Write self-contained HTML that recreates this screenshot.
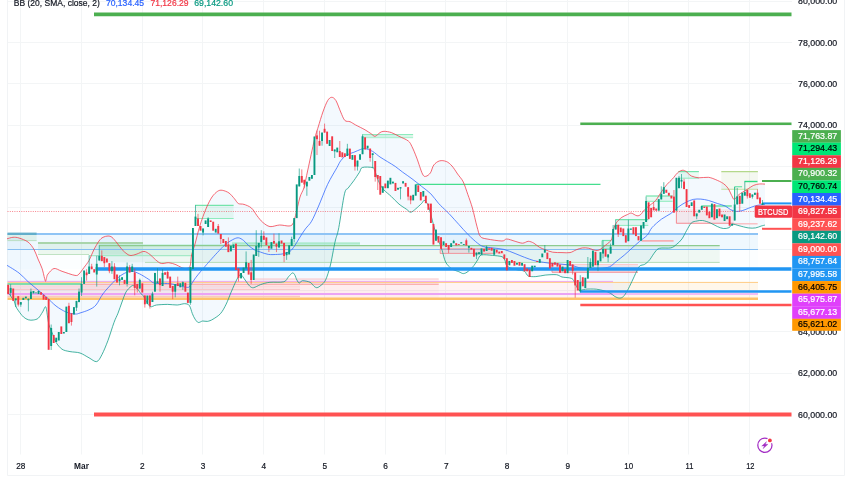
<!DOCTYPE html><html><head><meta charset="utf-8"><title>BTCUSD chart</title><style>html,body{margin:0;padding:0;background:#fff;overflow:hidden}body{width:852px;height:485px}</style></head><body><svg width="852" height="485" viewBox="0 0 852 485" style="display:block">
<rect width="852" height="485" fill="#fff"/>
<g stroke="#F3F5F6" stroke-width="1" >
<line x1="20.5" y1="0" x2="20.5" y2="454.5"/>
<line x1="81.5" y1="0" x2="81.5" y2="454.5"/>
<line x1="142.5" y1="0" x2="142.5" y2="454.5"/>
<line x1="202.5" y1="0" x2="202.5" y2="454.5"/>
<line x1="263.5" y1="0" x2="263.5" y2="454.5"/>
<line x1="324.5" y1="0" x2="324.5" y2="454.5"/>
<line x1="385.5" y1="0" x2="385.5" y2="454.5"/>
<line x1="445.5" y1="0" x2="445.5" y2="454.5"/>
<line x1="506.5" y1="0" x2="506.5" y2="454.5"/>
<line x1="567.5" y1="0" x2="567.5" y2="454.5"/>
<line x1="628.5" y1="0" x2="628.5" y2="454.5"/>
<line x1="688.5" y1="0" x2="688.5" y2="454.5"/>
<line x1="749.5" y1="0" x2="749.5" y2="454.5"/>
<line x1="7.5" y1="1.5" x2="792" y2="1.5"/>
<line x1="7.5" y1="42.5" x2="792" y2="42.5"/>
<line x1="7.5" y1="83.5" x2="792" y2="83.5"/>
<line x1="7.5" y1="125.5" x2="792" y2="125.5"/>
<line x1="7.5" y1="166.5" x2="792" y2="166.5"/>
<line x1="7.5" y1="207.5" x2="792" y2="207.5"/>
<line x1="7.5" y1="249.5" x2="792" y2="249.5"/>
<line x1="7.5" y1="290.5" x2="792" y2="290.5"/>
<line x1="7.5" y1="331.5" x2="792" y2="331.5"/>
<line x1="7.5" y1="373.5" x2="792" y2="373.5"/>
<line x1="7.5" y1="414.5" x2="792" y2="414.5"/>
</g>
<path d="M7.5,0V475.5H844.5V0" fill="none" stroke="#F1F3F5" stroke-width="1"/>
<rect x="7.5" y="234" width="750.5" height="15.3" fill="rgba(33,150,243,0.07)"/>
<rect x="7.5" y="249.3" width="750.5" height="19.7" fill="rgba(33,150,243,0.012)"/>
<rect x="7.5" y="282" width="431.2" height="16.5" fill="rgba(242,54,69,0.09)"/>
<rect x="438.7" y="282" width="174.3" height="16.5" fill="rgba(242,54,69,0.06)"/>
<rect x="613" y="282" width="145.0" height="16.5" fill="rgba(255,152,0,0.08)"/>
<rect x="7.5" y="284.4" width="292.5" height="5.6" fill="rgba(242,54,69,0.05)"/>
<rect x="254.5" y="279" width="184.2" height="5.4" fill="rgba(242,54,69,0.06)"/>
<rect x="7.5" y="234" width="29.1" height="7.0" fill="rgba(76,175,80,0.10)"/>
<rect x="38" y="243" width="105.0" height="11.6" fill="rgba(76,175,80,0.09)"/>
<rect x="98.8" y="245.5" width="94.2" height="10.5" fill="rgba(0,200,100,0.075)"/>
<rect x="99" y="245.5" width="620.7" height="16.9" fill="rgba(76,175,80,0.07)"/>
<rect x="195" y="205.4" width="38.6" height="13.1" fill="rgba(0,200,100,0.075)"/>
<rect x="232" y="242.6" width="128.0" height="2.8" fill="rgba(0,200,100,0.075)"/>
<rect x="362.3" y="134.5" width="50.8" height="3.2" fill="rgba(0,200,100,0.15)"/>
<rect x="440" y="249" width="54.0" height="4.5" fill="rgba(242,54,69,0.10)"/>
<rect x="552" y="264.5" width="86.0" height="7.7" fill="rgba(242,54,69,0.10)"/>
<rect x="676.4" y="209.2" width="57.2" height="14.1" fill="rgba(242,54,69,0.085)"/>
<rect x="602" y="240.5" width="9.0" height="8.5" fill="rgba(0,200,100,0.075)"/>
<rect x="615.4" y="219.7" width="32.9" height="5.7" fill="rgba(0,200,100,0.075)"/>
<rect x="645.8" y="196" width="26.8" height="5.3" fill="rgba(0,200,100,0.075)"/>
<rect x="678.3" y="171.6" width="20.6" height="6.6" fill="rgba(0,200,100,0.075)"/>
<rect x="721.3" y="171.7" width="36.6" height="17.6" fill="rgba(104,159,56,0.075)"/>
<polygon points="7.0,238.8 13.0,237.3 19.0,238.0 28.0,242.0 34.0,249.5 38.0,259.0 42.0,268.3 44.6,278.5 45.6,281.3 46.6,277.5 48.0,274.0 54.0,268.5 62.0,271.3 75.0,275.4 79.0,274.0 84.0,267.5 89.0,260.5 94.0,249.5 99.0,241.0 103.0,237.3 108.0,236.0 112.0,237.3 117.0,243.0 122.0,249.5 127.0,254.0 131.0,255.5 137.0,254.0 144.0,251.4 150.0,254.5 155.6,259.8 161.3,263.5 168.8,262.7 176.0,264.7 181.0,267.3 186.0,268.5 190.0,266.3 191.6,255.0 195.0,244.0 199.8,226.0 206.3,208.0 212.0,197.0 217.6,191.3 222.3,190.3 229.0,193.0 234.5,198.8 238.3,203.5 244.0,204.4 251.4,208.0 257.0,215.7 262.7,222.3 270.0,226.6 279.6,225.0 289.0,226.0 292.7,224.0 295.5,215.7 300.0,197.0 304.0,187.5 307.8,170.0 314.4,140.0 318.2,127.0 322.9,112.0 327.6,100.7 331.7,97.3 336.0,100.7 340.7,112.0 344.8,120.4 350.0,121.7 355.7,125.0 365.0,129.8 370.8,133.5 375.0,136.3 380.0,132.6 384.0,131.3 391.4,132.6 399.0,136.3 408.3,141.0 412.0,146.7 416.8,158.1 422.5,174.0 425.9,176.3 430.4,172.9 433.8,165.0 439.5,160.9 446.3,161.5 452.0,166.0 457.6,174.0 463.3,182.0 467.8,194.4 472.4,208.0 476.9,226.2 480.3,236.4 487.1,239.0 502.0,241.0 506.7,239.0 515.1,241.3 522.6,243.2 528.3,241.3 533.9,243.2 539.5,247.3 545.2,249.7 552.7,252.2 562.0,252.6 570.0,252.6 576.2,249.8 582.4,247.9 588.6,248.2 593.2,249.8 597.1,250.5 601.0,249.0 605.6,245.1 609.5,242.0 611.8,238.9 613.5,229.5 616.3,222.9 621.9,217.3 627.6,214.5 631.3,213.1 637.0,215.8 640.7,214.5 644.5,209.8 650.1,205.1 655.7,200.4 661.4,191.9 667.0,184.4 672.6,178.8 677.3,173.1 682.0,170.3 685.8,171.3 691.4,176.0 698.9,177.8 708.3,177.3 715.8,179.7 723.3,183.5 728.0,188.2 731.8,195.7 734.3,199.3 739.0,194.5 746.4,189.9 753.8,185.3 759.4,184.0 765.0,184.1 765.0,225.1 761.2,226.0 755.7,227.9 748.2,227.9 739.0,225.7 732.5,224.2 729.0,227.7 723.3,228.5 717.7,226.7 710.2,222.9 702.6,220.5 697.0,221.0 691.4,222.9 686.7,230.4 682.0,238.9 676.4,244.5 670.8,247.9 659.5,248.3 655.0,252.0 650.0,259.4 647.4,262.2 644.3,264.5 639.7,266.0 636.6,271.4 631.9,281.5 627.3,290.8 623.4,296.5 619.5,298.1 614.9,296.5 610.2,293.1 604.0,290.8 596.3,289.2 585.5,289.2 579.0,290.2 575.5,284.0 573.0,279.5 569.6,277.9 562.0,277.0 556.4,274.7 545.2,275.1 535.8,276.6 528.3,276.0 524.5,271.3 518.0,270.0 512.0,268.5 506.7,265.7 504.8,260.0 502.0,256.7 492.6,255.4 481.3,255.0 477.6,260.0 473.8,265.7 468.2,271.3 463.5,273.6 458.8,271.7 451.3,268.5 445.6,262.0 442.0,250.0 439.3,242.6 436.5,235.1 433.7,225.7 430.8,214.5 428.0,205.0 424.3,200.4 421.5,203.6 415.8,208.8 410.8,212.2 406.4,209.2 399.0,204.1 391.4,196.6 384.0,190.0 380.0,184.4 377.0,177.0 374.5,170.0 372.6,167.5 362.3,167.5 359.5,172.2 353.8,180.7 348.2,188.0 344.5,193.8 338.8,227.6 335.5,240.0 333.3,250.6 330.2,266.0 325.6,280.0 320.9,285.4 317.0,287.7 314.0,286.2 310.1,282.3 302.4,280.7 299.3,283.1 296.9,280.0 294.6,274.6 292.3,273.0 288.4,276.9 283.8,281.8 269.9,282.3 260.6,284.6 253.6,287.7 249.8,286.2 245.1,280.0 240.5,274.6 236.6,280.0 231.2,292.0 226.2,304.1 220.6,313.5 213.0,319.2 207.4,321.4 202.7,321.0 198.3,322.5 195.1,319.2 192.3,313.5 189.4,305.6 184.7,303.7 177.2,305.0 167.7,304.4 156.4,305.0 149.8,306.3 143.0,295.5 141.0,293.8 137.5,289.0 133.5,285.6 131.0,286.5 126.0,292.0 122.0,302.0 118.0,313.2 114.0,322.5 108.0,340.4 102.0,354.5 96.7,361.6 89.0,357.8 80.0,353.0 70.0,351.6 62.0,349.2 56.0,342.3 53.0,335.0 50.7,329.3 48.8,324.4 47.6,317.0 45.7,306.8 42.6,312.0 38.3,318.2 33.4,320.0 28.4,319.8 23.5,317.0 18.5,310.8 15.5,305.8 14.2,300.9 12.0,298.0 10.0,295.0 7.5,292.0" fill="rgba(33,150,243,0.055)"/>
<line x1="7.5" y1="234" x2="758" y2="234" stroke="#8FC4F5" stroke-width="2"/>
<line x1="7.5" y1="249.5" x2="758" y2="249.5" stroke="#86BEF2" stroke-width="1.1"/>
<line x1="7.5" y1="233.8" x2="36.6" y2="233.8" stroke="#62AECB" stroke-width="2.4"/>
<line x1="7.5" y1="240.6" x2="36.6" y2="240.6" stroke="#B8DEC0" stroke-width="0.9"/>
<line x1="38" y1="243" x2="143" y2="243" stroke="#A9D5AB" stroke-width="1.8"/>
<line x1="38" y1="254.5" x2="89" y2="254.5" stroke="#C0E2C3" stroke-width="1"/>
<line x1="89.4" y1="255.6" x2="193" y2="255.6" stroke="#A5E9C7" stroke-width="1.1"/>
<line x1="98.8" y1="245.4" x2="360" y2="245.4" stroke="#74E4AC" stroke-width="1.3"/>
<line x1="99" y1="245.6" x2="719.7" y2="245.6" stroke="#8CCB90" stroke-width="1.1"/>
<line x1="145" y1="262.4" x2="719.7" y2="262.4" stroke="#B5DDB7" stroke-width="1"/>
<line x1="232" y1="243.2" x2="360" y2="243.2" stroke="#9BE8C0" stroke-width="1.2"/>
<line x1="195" y1="205.4" x2="233.6" y2="205.4" stroke="#74E4AC" stroke-width="1.2"/>
<line x1="195" y1="218.5" x2="233.6" y2="218.5" stroke="#8EEBBD" stroke-width="1.2"/>
<line x1="362.3" y1="134.5" x2="413.1" y2="134.5" stroke="#8EEBBD" stroke-width="1"/>
<line x1="362.3" y1="137.7" x2="413.1" y2="137.7" stroke="#A8F0CC" stroke-width="1"/>
<line x1="416.2" y1="184.3" x2="600.5" y2="184.3" stroke="#45DE8E" stroke-width="1.25"/>
<line x1="602" y1="240.5" x2="611" y2="240.5" stroke="#74E4AC" stroke-width="1.2"/>
<line x1="602.5" y1="249" x2="611" y2="249" stroke="#74E4AC" stroke-width="1.2"/>
<line x1="615.4" y1="219.7" x2="648.3" y2="219.7" stroke="#74E4AC" stroke-width="1.2"/>
<line x1="615.4" y1="225.4" x2="648.3" y2="225.4" stroke="#8EEBBD" stroke-width="1"/>
<line x1="645.8" y1="196" x2="672.6" y2="196" stroke="#74E4AC" stroke-width="1.2"/>
<line x1="645.8" y1="201.3" x2="672.6" y2="201.3" stroke="#8EEBBD" stroke-width="1"/>
<line x1="678.3" y1="171.6" x2="698.9" y2="171.6" stroke="#74E4AC" stroke-width="1.2"/>
<line x1="678.3" y1="178.2" x2="698.9" y2="178.2" stroke="#8EEBBD" stroke-width="1"/>
<line x1="701.2" y1="206" x2="731.8" y2="206" stroke="#74E4AC" stroke-width="1.6"/>
<line x1="721.3" y1="171.7" x2="757.9" y2="171.7" stroke="#B4D88B" stroke-width="1.3"/>
<line x1="721.3" y1="189.3" x2="757.9" y2="189.3" stroke="#C3E0A3" stroke-width="1.1"/>
<line x1="734.6" y1="186.7" x2="742.1" y2="186.7" stroke="#74E4AC" stroke-width="1.3"/>
<line x1="744.5" y1="181.5" x2="757.5" y2="181.5" stroke="#2EDB80" stroke-width="1.4"/>
<line x1="440" y1="248.9" x2="494" y2="248.9" stroke="#F28B93" stroke-width="0.9"/>
<line x1="440" y1="253.4" x2="494" y2="253.4" stroke="#F28B93" stroke-width="0.9"/>
<line x1="494" y1="253.4" x2="504" y2="253.4" stroke="#FAC5C9" stroke-width="0.8"/>
<line x1="552" y1="264.5" x2="638" y2="264.5" stroke="#FAC5C9" stroke-width="0.9"/>
<line x1="552" y1="272.2" x2="638" y2="272.2" stroke="#F4848C" stroke-width="1"/>
<line x1="676.4" y1="223.3" x2="733.6" y2="223.3" stroke="#F48A92" stroke-width="1.1"/>
<line x1="641.6" y1="240.8" x2="673.6" y2="240.8" stroke="#F7AEB3" stroke-width="1.8"/>
<line x1="732.7" y1="223.8" x2="757.6" y2="223.8" stroke="#F9B9BD" stroke-width="1.3"/>
<line x1="254.5" y1="279" x2="438.7" y2="279" stroke="#FAC5C9" stroke-width="1.2"/>
<line x1="7.5" y1="284.4" x2="438.7" y2="284.4" stroke="#FBB0B0" stroke-width="1.2"/>
<line x1="7.5" y1="286.7" x2="300" y2="286.7" stroke="#FBD6D9" stroke-width="0.9"/>
<line x1="7.5" y1="289.5" x2="300" y2="289.5" stroke="#F9C6CA" stroke-width="1.1"/>
<line x1="7.5" y1="296.3" x2="300" y2="296.3" stroke="#FAC8C0" stroke-width="1.2"/>
<line x1="7.5" y1="281.4" x2="613" y2="281.4" stroke="#EBA4F5" stroke-width="1"/>
<line x1="7.5" y1="282.4" x2="758" y2="282.4" stroke="#FFCB85" stroke-width="1"/>
<line x1="7.5" y1="294" x2="613" y2="294" stroke="#EBA4F5" stroke-width="2"/>
<line x1="613" y1="294" x2="758" y2="294" stroke="#F2BDF3" stroke-width="2"/>
<line x1="7.5" y1="298.7" x2="758" y2="298.7" stroke="#FFC26B" stroke-width="2.6"/>
<line x1="7.5" y1="284.1" x2="81" y2="284.1" stroke="#80DDAC" stroke-width="2"/>
<line x1="440.2" y1="248.9" x2="440.2" y2="253.4" stroke="#F28B93" stroke-width="0.9"/>
<line x1="552" y1="264.5" x2="552" y2="272.2" stroke="#F4848C" stroke-width="0.9"/>
<line x1="676.4" y1="177.8" x2="676.4" y2="223.3" stroke="#F48A92" stroke-width="1"/>
<line x1="602" y1="240.5" x2="602" y2="249" stroke="#74E4AC" stroke-width="1"/>
<line x1="734.6" y1="186.7" x2="734.6" y2="204" stroke="#74E4AC" stroke-width="1"/>
<path d="M7.0,238.8C8.0,238.6 11.1,237.4 13.0,237.3C14.9,237.2 16.6,237.2 19.0,238.0C21.4,238.8 25.6,240.2 28.0,242.0C30.4,243.8 32.4,246.8 34.0,249.5C35.6,252.2 36.7,256.0 38.0,259.0C39.3,262.0 40.9,265.2 42.0,268.3C43.1,271.4 44.0,276.4 44.6,278.5C45.2,280.6 45.3,281.5 45.6,281.3C45.9,281.1 46.2,278.7 46.6,277.5C47.0,276.3 46.8,275.4 48.0,274.0C49.2,272.6 51.8,268.9 54.0,268.5C56.2,268.1 58.6,270.2 62.0,271.3C65.4,272.4 72.3,275.0 75.0,275.4C77.7,275.8 77.6,275.3 79.0,274.0C80.4,272.7 82.4,269.7 84.0,267.5C85.6,265.3 87.4,263.4 89.0,260.5C90.6,257.6 92.4,252.6 94.0,249.5C95.6,246.4 97.6,243.0 99.0,241.0C100.4,239.0 101.6,238.1 103.0,237.3C104.4,236.5 106.6,236.0 108.0,236.0C109.4,236.0 110.6,236.2 112.0,237.3C113.4,238.4 115.4,241.0 117.0,243.0C118.6,245.0 120.4,247.7 122.0,249.5C123.6,251.3 125.6,253.0 127.0,254.0C128.4,255.0 129.4,255.5 131.0,255.5C132.6,255.5 134.9,254.7 137.0,254.0C139.1,253.3 141.9,251.3 144.0,251.4C146.1,251.5 148.1,253.2 150.0,254.5C151.9,255.8 153.8,258.4 155.6,259.8C157.4,261.2 159.2,263.0 161.3,263.5C163.4,264.0 166.4,262.5 168.8,262.7C171.2,262.9 174.0,264.0 176.0,264.7C178.0,265.4 179.4,266.7 181.0,267.3C182.6,267.9 184.6,268.7 186.0,268.5C187.4,268.3 189.1,268.5 190.0,266.3C190.9,264.1 190.8,258.6 191.6,255.0C192.4,251.4 193.7,248.6 195.0,244.0C196.3,239.4 198.0,231.8 199.8,226.0C201.6,220.2 204.3,212.6 206.3,208.0C208.3,203.4 210.2,199.7 212.0,197.0C213.8,194.3 216.0,192.4 217.6,191.3C219.2,190.2 220.5,190.0 222.3,190.3C224.1,190.6 227.0,191.6 229.0,193.0C231.0,194.4 233.0,197.1 234.5,198.8C236.0,200.5 236.8,202.6 238.3,203.5C239.8,204.4 241.9,203.7 244.0,204.4C246.1,205.1 249.3,206.2 251.4,208.0C253.5,209.8 255.2,213.4 257.0,215.7C258.8,218.0 260.6,220.6 262.7,222.3C264.8,224.0 267.3,226.2 270.0,226.6C272.7,227.0 276.6,225.1 279.6,225.0C282.6,224.9 286.9,226.2 289.0,226.0C291.1,225.8 291.7,225.6 292.7,224.0C293.7,222.4 294.3,220.0 295.5,215.7C296.7,211.4 298.6,201.5 300.0,197.0C301.4,192.5 302.8,191.8 304.0,187.5C305.2,183.2 306.1,177.6 307.8,170.0C309.5,162.4 312.7,146.9 314.4,140.0C316.1,133.1 316.8,131.5 318.2,127.0C319.6,122.5 321.4,116.2 322.9,112.0C324.4,107.8 326.2,103.1 327.6,100.7C329.0,98.3 330.4,97.3 331.7,97.3C333.0,97.3 334.6,98.3 336.0,100.7C337.4,103.1 339.3,108.8 340.7,112.0C342.1,115.2 343.3,118.8 344.8,120.4C346.3,122.0 348.3,121.0 350.0,121.7C351.7,122.4 353.3,123.7 355.7,125.0C358.1,126.3 362.6,128.4 365.0,129.8C367.4,131.2 369.2,132.5 370.8,133.5C372.4,134.5 373.5,136.4 375.0,136.3C376.5,136.2 378.6,133.4 380.0,132.6C381.4,131.8 382.2,131.3 384.0,131.3C385.8,131.3 389.0,131.8 391.4,132.6C393.8,133.4 396.3,135.0 399.0,136.3C401.7,137.6 406.2,139.3 408.3,141.0C410.4,142.7 410.6,144.0 412.0,146.7C413.4,149.4 415.1,153.7 416.8,158.1C418.5,162.5 421.0,171.1 422.5,174.0C424.0,176.9 424.6,176.5 425.9,176.3C427.2,176.1 429.1,174.7 430.4,172.9C431.7,171.1 432.3,166.9 433.8,165.0C435.3,163.1 437.5,161.5 439.5,160.9C441.5,160.3 444.3,160.7 446.3,161.5C448.3,162.3 450.2,164.0 452.0,166.0C453.8,168.0 455.8,171.4 457.6,174.0C459.4,176.6 461.7,178.7 463.3,182.0C464.9,185.3 466.3,190.2 467.8,194.4C469.3,198.6 470.9,202.9 472.4,208.0C473.9,213.1 475.6,221.7 476.9,226.2C478.2,230.7 478.7,234.4 480.3,236.4C481.9,238.4 483.6,238.3 487.1,239.0C490.6,239.7 498.9,241.0 502.0,241.0C505.1,241.0 504.6,239.0 506.7,239.0C508.8,239.0 512.6,240.6 515.1,241.3C517.6,242.0 520.5,243.2 522.6,243.2C524.7,243.2 526.5,241.3 528.3,241.3C530.1,241.3 532.1,242.2 533.9,243.2C535.7,244.2 537.7,246.3 539.5,247.3C541.3,248.3 543.1,248.9 545.2,249.7C547.3,250.5 550.0,251.7 552.7,252.2C555.4,252.7 559.2,252.5 562.0,252.6C564.8,252.7 567.7,253.0 570.0,252.6C572.3,252.2 574.2,250.6 576.2,249.8C578.2,249.0 580.4,248.2 582.4,247.9C584.4,247.6 586.9,247.9 588.6,248.2C590.3,248.5 591.8,249.4 593.2,249.8C594.6,250.2 595.9,250.6 597.1,250.5C598.3,250.4 599.6,249.9 601.0,249.0C602.4,248.1 604.2,246.2 605.6,245.1C607.0,244.0 608.5,243.0 609.5,242.0C610.5,241.0 611.2,240.9 611.8,238.9C612.4,236.9 612.8,232.1 613.5,229.5C614.2,226.9 615.0,224.9 616.3,222.9C617.6,220.9 620.1,218.6 621.9,217.3C623.7,216.0 626.1,215.2 627.6,214.5C629.1,213.8 629.8,212.9 631.3,213.1C632.8,213.3 635.5,215.6 637.0,215.8C638.5,216.0 639.5,215.5 640.7,214.5C641.9,213.5 643.0,211.3 644.5,209.8C646.0,208.3 648.3,206.6 650.1,205.1C651.9,203.6 653.9,202.5 655.7,200.4C657.5,198.3 659.6,194.5 661.4,191.9C663.2,189.3 665.2,186.5 667.0,184.4C668.8,182.3 671.0,180.6 672.6,178.8C674.2,177.0 675.8,174.5 677.3,173.1C678.8,171.7 680.6,170.6 682.0,170.3C683.4,170.0 684.3,170.4 685.8,171.3C687.3,172.2 689.3,175.0 691.4,176.0C693.5,177.0 696.2,177.6 698.9,177.8C701.6,178.0 705.6,177.0 708.3,177.3C711.0,177.6 713.4,178.7 715.8,179.7C718.2,180.7 721.3,182.1 723.3,183.5C725.3,184.9 726.6,186.2 728.0,188.2C729.4,190.2 730.8,193.9 731.8,195.7C732.8,197.5 733.1,199.5 734.3,199.3C735.5,199.1 737.1,196.0 739.0,194.5C740.9,193.0 744.0,191.4 746.4,189.9C748.8,188.4 751.7,186.2 753.8,185.3C755.9,184.4 757.6,184.2 759.4,184.0C761.2,183.8 764.1,184.1 765.0,184.1" fill="none" stroke="#F23645" stroke-width="0.75" stroke-linejoin="round"/>
<path d="M7.5,292.0C7.9,292.5 9.3,294.0 10.0,295.0C10.7,296.0 11.3,297.1 12.0,298.0C12.7,298.9 13.6,299.7 14.2,300.9C14.8,302.1 14.8,304.2 15.5,305.8C16.2,307.4 17.2,309.0 18.5,310.8C19.8,312.6 21.9,315.6 23.5,317.0C25.1,318.4 26.8,319.3 28.4,319.8C30.0,320.3 31.8,320.3 33.4,320.0C35.0,319.7 36.8,319.5 38.3,318.2C39.8,316.9 41.4,313.8 42.6,312.0C43.8,310.2 44.9,306.0 45.7,306.8C46.5,307.6 47.1,314.2 47.6,317.0C48.1,319.8 48.3,322.4 48.8,324.4C49.3,326.4 50.0,327.6 50.7,329.3C51.4,331.0 52.2,332.9 53.0,335.0C53.8,337.1 54.6,340.0 56.0,342.3C57.4,344.6 59.8,347.7 62.0,349.2C64.2,350.7 67.1,351.0 70.0,351.6C72.9,352.2 77.0,352.0 80.0,353.0C83.0,354.0 86.3,356.4 89.0,357.8C91.7,359.2 94.6,362.1 96.7,361.6C98.8,361.1 100.2,357.9 102.0,354.5C103.8,351.1 106.1,345.5 108.0,340.4C109.9,335.3 112.4,326.9 114.0,322.5C115.6,318.1 116.7,316.5 118.0,313.2C119.3,309.9 120.7,305.4 122.0,302.0C123.3,298.6 124.6,294.5 126.0,292.0C127.4,289.5 129.8,287.5 131.0,286.5C132.2,285.5 132.5,285.2 133.5,285.6C134.5,286.0 136.3,287.7 137.5,289.0C138.7,290.3 140.1,292.8 141.0,293.8C141.9,294.8 141.6,293.5 143.0,295.5C144.4,297.5 147.7,304.8 149.8,306.3C151.9,307.8 153.5,305.3 156.4,305.0C159.3,304.7 164.4,304.4 167.7,304.4C171.0,304.4 174.5,305.1 177.2,305.0C179.9,304.9 182.7,303.6 184.7,303.7C186.7,303.8 188.2,304.0 189.4,305.6C190.6,307.2 191.4,311.3 192.3,313.5C193.2,315.7 194.1,317.8 195.1,319.2C196.1,320.6 197.1,322.2 198.3,322.5C199.5,322.8 201.2,321.2 202.7,321.0C204.2,320.8 205.8,321.7 207.4,321.4C209.0,321.1 210.9,320.5 213.0,319.2C215.1,317.9 218.5,315.9 220.6,313.5C222.7,311.1 224.5,307.5 226.2,304.1C227.9,300.7 229.5,295.9 231.2,292.0C232.9,288.1 235.1,282.8 236.6,280.0C238.1,277.2 239.1,274.6 240.5,274.6C241.9,274.6 243.6,278.1 245.1,280.0C246.6,281.9 248.4,285.0 249.8,286.2C251.2,287.4 251.9,288.0 253.6,287.7C255.3,287.4 258.0,285.5 260.6,284.6C263.2,283.7 266.2,282.7 269.9,282.3C273.6,281.9 280.8,282.7 283.8,281.8C286.8,280.9 287.0,278.3 288.4,276.9C289.8,275.5 291.3,273.4 292.3,273.0C293.3,272.6 293.9,273.5 294.6,274.6C295.3,275.7 296.1,278.6 296.9,280.0C297.7,281.4 298.4,283.0 299.3,283.1C300.2,283.2 300.7,280.8 302.4,280.7C304.1,280.6 308.2,281.4 310.1,282.3C312.0,283.2 312.9,285.3 314.0,286.2C315.1,287.1 315.9,287.8 317.0,287.7C318.1,287.6 319.5,286.6 320.9,285.4C322.3,284.2 324.1,283.1 325.6,280.0C327.1,276.9 329.0,270.7 330.2,266.0C331.4,261.3 332.5,254.8 333.3,250.6C334.1,246.4 334.6,243.7 335.5,240.0C336.4,236.3 337.4,235.0 338.8,227.6C340.2,220.2 343.0,200.1 344.5,193.8C346.0,187.5 346.7,190.1 348.2,188.0C349.7,185.9 352.0,183.2 353.8,180.7C355.6,178.2 358.1,174.3 359.5,172.2C360.9,170.1 360.2,168.3 362.3,167.5C364.4,166.7 370.6,167.1 372.6,167.5C374.6,167.9 373.8,168.5 374.5,170.0C375.2,171.5 376.1,174.7 377.0,177.0C377.9,179.3 378.9,182.3 380.0,184.4C381.1,186.5 382.2,188.0 384.0,190.0C385.8,192.0 389.0,194.3 391.4,196.6C393.8,198.9 396.6,202.1 399.0,204.1C401.4,206.1 404.5,207.9 406.4,209.2C408.3,210.5 409.3,212.3 410.8,212.2C412.3,212.1 414.1,210.2 415.8,208.8C417.5,207.4 420.1,204.9 421.5,203.6C422.9,202.3 423.3,200.2 424.3,200.4C425.3,200.6 427.0,202.7 428.0,205.0C429.0,207.3 429.9,211.2 430.8,214.5C431.7,217.8 432.8,222.4 433.7,225.7C434.6,229.0 435.6,232.4 436.5,235.1C437.4,237.8 438.4,240.2 439.3,242.6C440.2,245.0 441.0,246.9 442.0,250.0C443.0,253.1 444.1,259.0 445.6,262.0C447.1,265.0 449.2,266.9 451.3,268.5C453.4,270.1 456.8,270.9 458.8,271.7C460.8,272.5 462.0,273.7 463.5,273.6C465.0,273.5 466.6,272.6 468.2,271.3C469.8,270.0 472.3,267.5 473.8,265.7C475.3,263.9 476.4,261.7 477.6,260.0C478.8,258.3 478.9,255.7 481.3,255.0C483.7,254.3 489.3,255.1 492.6,255.4C495.9,255.7 500.0,256.0 502.0,256.7C504.0,257.4 504.0,258.6 504.8,260.0C505.6,261.4 505.5,264.3 506.7,265.7C507.9,267.1 510.2,267.8 512.0,268.5C513.8,269.2 516.0,269.6 518.0,270.0C520.0,270.4 522.9,270.3 524.5,271.3C526.1,272.3 526.5,275.2 528.3,276.0C530.1,276.8 533.1,276.7 535.8,276.6C538.5,276.5 541.9,275.4 545.2,275.1C548.5,274.8 553.7,274.4 556.4,274.7C559.1,275.0 559.9,276.5 562.0,277.0C564.1,277.5 567.8,277.5 569.6,277.9C571.4,278.3 572.1,278.5 573.0,279.5C573.9,280.5 574.5,282.3 575.5,284.0C576.5,285.7 577.4,289.4 579.0,290.2C580.6,291.0 582.7,289.4 585.5,289.2C588.3,289.0 593.3,288.9 596.3,289.2C599.3,289.5 601.8,290.2 604.0,290.8C606.2,291.4 608.5,292.2 610.2,293.1C611.9,294.0 613.4,295.7 614.9,296.5C616.4,297.3 618.1,298.1 619.5,298.1C620.9,298.1 622.2,297.7 623.4,296.5C624.6,295.3 625.9,293.2 627.3,290.8C628.7,288.4 630.4,284.6 631.9,281.5C633.4,278.4 635.4,273.9 636.6,271.4C637.8,268.9 638.5,267.1 639.7,266.0C640.9,264.9 643.1,265.1 644.3,264.5C645.5,263.9 646.5,263.0 647.4,262.2C648.3,261.4 648.8,261.0 650.0,259.4C651.2,257.8 653.5,253.8 655.0,252.0C656.5,250.2 657.0,249.0 659.5,248.3C662.0,247.6 668.1,248.5 670.8,247.9C673.5,247.3 674.6,245.9 676.4,244.5C678.2,243.1 680.4,241.2 682.0,238.9C683.6,236.6 685.2,233.0 686.7,230.4C688.2,227.8 689.8,224.4 691.4,222.9C693.0,221.4 695.2,221.4 697.0,221.0C698.8,220.6 700.5,220.2 702.6,220.5C704.7,220.8 707.8,221.9 710.2,222.9C712.6,223.9 715.6,225.8 717.7,226.7C719.8,227.6 721.5,228.3 723.3,228.5C725.1,228.7 727.5,228.4 729.0,227.7C730.5,227.0 730.9,224.5 732.5,224.2C734.1,223.9 736.5,225.1 739.0,225.7C741.5,226.3 745.5,227.5 748.2,227.9C750.9,228.3 753.6,228.2 755.7,227.9C757.8,227.6 759.7,226.4 761.2,226.0C762.7,225.6 764.4,225.2 765.0,225.1" fill="none" stroke="#089981" stroke-width="0.75" stroke-linejoin="round"/>
<path d="M7.0,265.3C8.9,266.5 15.6,270.4 19.0,273.0C22.4,275.6 25.0,278.9 28.0,281.6C31.0,284.3 35.0,287.4 38.0,290.0C41.0,292.6 44.1,295.0 47.0,297.6C49.9,300.2 53.0,303.7 56.0,306.0C59.0,308.3 63.0,310.7 66.0,312.0C69.0,313.3 72.8,313.8 75.0,314.0C77.2,314.2 77.8,313.7 80.0,313.0C82.2,312.3 86.4,311.1 89.0,309.8C91.6,308.5 93.8,307.6 96.0,305.0C98.2,302.4 100.3,297.4 103.0,293.8C105.7,290.2 110.0,285.6 113.0,282.5C116.0,279.4 119.1,276.5 122.0,274.7C124.9,272.9 128.2,271.4 131.0,271.3C133.8,271.2 136.6,272.5 139.4,273.8C142.2,275.1 146.4,277.9 148.8,279.4C151.2,280.9 151.4,282.5 154.4,283.2C157.4,283.9 164.0,283.2 167.6,283.5C171.2,283.8 174.0,284.4 177.0,285.0C180.0,285.6 184.3,287.1 186.4,287.3C188.5,287.5 188.5,287.6 190.0,286.0C191.5,284.4 193.4,280.7 195.8,277.5C198.2,274.3 202.8,269.0 205.1,266.3C207.4,263.6 208.0,262.9 210.0,260.7C212.0,258.5 215.2,254.8 217.6,252.3C220.0,249.8 222.6,246.8 225.0,244.8C227.4,242.8 230.5,240.8 232.6,239.7C234.7,238.6 236.5,237.7 238.3,237.8C240.1,237.9 242.0,239.3 243.6,240.5C245.2,241.7 246.5,243.7 248.2,245.2C249.9,246.7 252.4,248.7 254.4,249.8C256.4,250.9 258.4,251.4 260.6,252.1C262.8,252.8 265.6,254.0 268.3,254.4C271.0,254.8 275.1,254.5 277.6,254.4C280.1,254.3 281.8,254.2 283.8,253.7C285.8,253.2 288.3,252.6 290.0,251.4C291.7,250.2 293.1,248.0 294.6,245.9C296.1,243.8 297.6,240.9 299.3,238.2C301.0,235.5 303.4,231.6 305.4,228.9C307.4,226.2 309.6,224.7 311.6,221.2C313.6,217.7 315.6,212.9 318.2,207.0C320.8,201.1 324.6,190.7 327.6,184.4C330.6,178.1 334.9,171.3 337.0,167.5C339.1,163.7 339.2,162.8 340.7,160.8C342.2,158.8 344.2,156.6 346.3,155.2C348.4,153.8 351.5,153.2 353.8,152.3C356.1,151.4 358.6,150.1 360.4,149.5C362.2,148.9 363.0,148.3 365.0,148.6C367.0,148.9 370.2,150.1 372.6,151.4C375.0,152.7 377.6,155.4 380.0,157.0C382.4,158.6 385.2,160.2 387.6,161.7C390.0,163.2 392.8,164.7 395.2,166.4C397.6,168.1 400.0,170.2 402.7,172.2C405.4,174.2 409.0,176.5 412.0,178.8C415.0,181.1 418.5,183.9 421.5,186.3C424.5,188.7 428.1,191.1 430.8,193.8C433.5,196.5 436.0,200.5 438.4,203.2C440.8,205.9 444.1,208.8 446.0,210.7C447.9,212.6 448.3,212.8 450.3,215.0C452.3,217.2 455.9,221.2 458.8,224.4C461.7,227.6 465.2,231.7 468.2,234.7C471.2,237.7 475.2,241.3 477.6,243.2C480.0,245.1 480.8,245.7 483.2,246.5C485.6,247.3 489.3,247.4 492.6,247.9C495.9,248.4 500.2,248.5 503.8,249.4C507.4,250.3 511.8,252.2 515.1,253.5C518.4,254.8 521.5,256.2 524.5,257.3C527.5,258.4 530.9,259.8 533.9,260.6C536.9,261.4 540.3,261.8 543.3,262.3C546.3,262.8 549.7,263.2 552.7,263.5C555.7,263.8 559.0,263.9 562.0,264.2C565.0,264.5 568.8,264.8 571.5,265.3C574.2,265.8 576.0,267.0 579.0,267.6C582.0,268.2 586.6,268.7 590.0,268.8C593.4,268.9 596.9,268.8 600.0,268.5C603.1,268.2 606.9,267.9 609.5,266.8C612.1,265.7 614.0,263.3 616.4,261.4C618.8,259.5 621.7,257.3 624.2,255.2C626.7,253.1 629.4,250.4 631.9,248.2C634.4,246.0 637.2,243.4 639.7,241.3C642.2,239.2 645.4,237.2 647.4,235.0C649.4,232.8 649.8,230.1 652.0,227.6C654.2,225.1 658.4,221.5 661.4,219.2C664.4,216.9 668.1,215.5 670.8,213.5C673.5,211.5 675.9,208.8 678.3,207.0C680.7,205.2 683.4,203.5 685.8,202.3C688.2,201.1 690.9,199.9 693.3,199.4C695.7,198.9 698.4,198.9 700.8,199.1C703.2,199.3 705.6,199.7 708.3,200.4C711.0,201.1 715.0,202.7 717.7,203.6C720.4,204.5 723.1,205.0 725.2,206.0C727.3,207.0 729.0,208.9 730.8,209.8C732.6,210.7 734.7,211.3 736.5,211.4C738.3,211.5 740.2,211.2 742.1,210.7C744.0,210.2 746.0,209.2 748.2,208.4C750.4,207.6 753.0,206.4 755.7,205.7C758.4,205.0 763.5,204.5 765.0,204.3" fill="none" stroke="#2962FF" stroke-width="0.75" stroke-linejoin="round"/>
<line x1="94" y1="14.4" x2="791.5" y2="14.4" stroke="#4CAF50" stroke-width="3.8"/>
<line x1="94" y1="414.6" x2="791.5" y2="414.6" stroke="#FF5252" stroke-width="4"/>
<line x1="580.3" y1="123.7" x2="791.5" y2="123.7" stroke="#4CAF50" stroke-width="2.5"/>
<line x1="95.5" y1="269" x2="791.5" y2="269" stroke="#2196F3" stroke-width="3.7"/>
<line x1="580" y1="291.5" x2="791.5" y2="291.5" stroke="#2196F3" stroke-width="2.5"/>
<line x1="580.3" y1="305.0" x2="791.5" y2="305.0" stroke="#FF5252" stroke-width="2.5"/>
<line x1="762" y1="181" x2="791.5" y2="181" stroke="#4CAF50" stroke-width="2"/>
<line x1="762" y1="203.4" x2="791.5" y2="203.4" stroke="#2196F3" stroke-width="2"/>
<line x1="762" y1="228.8" x2="791.5" y2="228.8" stroke="#FF5252" stroke-width="2"/>
<line x1="7.5" y1="211.5" x2="792" y2="211.5" stroke="#F23645" stroke-width="1" stroke-dasharray="1,1.3" opacity="0.6"/>
<g stroke-width="0.8" opacity="0.8"><line x1="10.67" y1="284.2" x2="10.67" y2="296.0" stroke="#089981"/><line x1="15.74" y1="298.4" x2="15.74" y2="307.0" stroke="#089981"/><line x1="18.27" y1="296.2" x2="18.27" y2="306.5" stroke="#F23645"/><line x1="20.80" y1="302.1" x2="20.80" y2="306.8" stroke="#089981"/><line x1="28.39" y1="298.7" x2="28.39" y2="311.4" stroke="#089981"/><line x1="30.93" y1="288.5" x2="30.93" y2="299.0" stroke="#089981"/><line x1="51.18" y1="324.5" x2="51.18" y2="350.0" stroke="#089981"/><line x1="68.90" y1="302.8" x2="68.90" y2="323.2" stroke="#F23645"/><line x1="71.43" y1="313.3" x2="71.43" y2="325.6" stroke="#F23645"/><line x1="76.49" y1="300.9" x2="76.49" y2="311.0" stroke="#089981"/><line x1="79.02" y1="288.5" x2="79.02" y2="302.1" stroke="#089981"/><line x1="81.56" y1="277.2" x2="81.56" y2="296.0" stroke="#089981"/><line x1="86.62" y1="269.2" x2="86.62" y2="280.6" stroke="#F23645"/><line x1="89.15" y1="255.4" x2="89.15" y2="273.9" stroke="#089981"/><line x1="91.68" y1="263.8" x2="91.68" y2="269.2" stroke="#F23645"/><line x1="96.74" y1="255.8" x2="96.74" y2="286.6" stroke="#089981"/><line x1="99.28" y1="245.5" x2="99.28" y2="260.5" stroke="#089981"/><line x1="101.81" y1="250.4" x2="101.81" y2="261.1" stroke="#F23645"/><line x1="104.34" y1="257.1" x2="104.34" y2="267.2" stroke="#F23645"/><line x1="109.40" y1="263.2" x2="109.40" y2="273.2" stroke="#F23645"/><line x1="111.93" y1="261.1" x2="111.93" y2="273.9" stroke="#089981"/><line x1="114.47" y1="263.2" x2="114.47" y2="279.2" stroke="#F23645"/><line x1="119.53" y1="275.2" x2="119.53" y2="285.3" stroke="#089981"/><line x1="127.12" y1="262.5" x2="127.12" y2="286.6" stroke="#089981"/><line x1="129.65" y1="265.2" x2="129.65" y2="272.5" stroke="#F23645"/><line x1="132.19" y1="263.8" x2="132.19" y2="271.9" stroke="#089981"/><line x1="134.72" y1="268.5" x2="134.72" y2="295.3" stroke="#F23645"/><line x1="137.25" y1="283.9" x2="137.25" y2="292.6" stroke="#F23645"/><line x1="139.78" y1="278.6" x2="139.78" y2="288.6" stroke="#089981"/><line x1="144.84" y1="295.5" x2="144.84" y2="307.6" stroke="#F23645"/><line x1="149.91" y1="295.5" x2="149.91" y2="308.6" stroke="#F23645"/><line x1="152.44" y1="291.7" x2="152.44" y2="302.0" stroke="#089981"/><line x1="157.50" y1="268.2" x2="157.50" y2="283.2" stroke="#089981"/><line x1="160.03" y1="278.5" x2="160.03" y2="291.7" stroke="#F23645"/><line x1="162.56" y1="269.1" x2="162.56" y2="286.0" stroke="#089981"/><line x1="167.63" y1="270.5" x2="167.63" y2="278.5" stroke="#F23645"/><line x1="172.69" y1="286.0" x2="172.69" y2="299.2" stroke="#F23645"/><line x1="175.22" y1="284.1" x2="175.22" y2="297.3" stroke="#089981"/><line x1="177.75" y1="276.6" x2="177.75" y2="286.0" stroke="#F23645"/><line x1="182.82" y1="281.4" x2="182.82" y2="289.9" stroke="#089981"/><line x1="190.41" y1="267.2" x2="190.41" y2="304.8" stroke="#089981"/><line x1="195.47" y1="205.4" x2="195.47" y2="226.0" stroke="#089981"/><line x1="198.00" y1="213.8" x2="198.00" y2="226.0" stroke="#F23645"/><line x1="203.07" y1="228.5" x2="203.07" y2="235.4" stroke="#089981"/><line x1="208.13" y1="217.2" x2="208.13" y2="227.0" stroke="#089981"/><line x1="218.26" y1="224.0" x2="218.26" y2="233.5" stroke="#F23645"/><line x1="220.79" y1="234.0" x2="220.79" y2="244.0" stroke="#F23645"/><line x1="228.38" y1="237.4" x2="228.38" y2="252.1" stroke="#F23645"/><line x1="238.51" y1="268.4" x2="238.51" y2="281.5" stroke="#F23645"/><line x1="246.10" y1="251.4" x2="246.10" y2="268.4" stroke="#089981"/><line x1="251.17" y1="259.9" x2="251.17" y2="283.9" stroke="#F23645"/><line x1="256.23" y1="230.2" x2="256.23" y2="256.0" stroke="#089981"/><line x1="258.76" y1="242.9" x2="258.76" y2="256.8" stroke="#089981"/><line x1="261.29" y1="230.2" x2="261.29" y2="247.5" stroke="#089981"/><line x1="263.82" y1="231.3" x2="263.82" y2="239.8" stroke="#F23645"/><line x1="268.89" y1="246.0" x2="268.89" y2="252.0" stroke="#F23645"/><line x1="273.95" y1="233.6" x2="273.95" y2="243.6" stroke="#F23645"/><line x1="276.48" y1="243.6" x2="276.48" y2="252.1" stroke="#F23645"/><line x1="279.01" y1="233.3" x2="279.01" y2="247.5" stroke="#089981"/><line x1="284.08" y1="242.9" x2="284.08" y2="262.2" stroke="#F23645"/><line x1="286.61" y1="252.1" x2="286.61" y2="259.9" stroke="#089981"/><line x1="291.67" y1="236.7" x2="291.67" y2="246.0" stroke="#089981"/><line x1="294.20" y1="218.1" x2="294.20" y2="242.0" stroke="#089981"/><line x1="299.26" y1="168.5" x2="299.26" y2="186.4" stroke="#089981"/><line x1="301.80" y1="169.4" x2="301.80" y2="182.6" stroke="#F23645"/><line x1="304.33" y1="179.8" x2="304.33" y2="188.3" stroke="#F23645"/><line x1="306.86" y1="181.7" x2="306.86" y2="195.8" stroke="#089981"/><line x1="316.99" y1="130.7" x2="316.99" y2="155.0" stroke="#F23645"/><line x1="319.52" y1="130.7" x2="319.52" y2="145.7" stroke="#F23645"/><line x1="322.05" y1="132.6" x2="322.05" y2="145.7" stroke="#089981"/><line x1="324.58" y1="123.6" x2="324.58" y2="132.6" stroke="#F23645"/><line x1="334.71" y1="149.5" x2="334.71" y2="158.0" stroke="#089981"/><line x1="339.77" y1="141.0" x2="339.77" y2="157.0" stroke="#F23645"/><line x1="347.36" y1="143.8" x2="347.36" y2="156.0" stroke="#089981"/><line x1="354.96" y1="155.2" x2="354.96" y2="170.6" stroke="#F23645"/><line x1="357.49" y1="160.6" x2="357.49" y2="170.6" stroke="#089981"/><line x1="362.55" y1="134.5" x2="362.55" y2="154.2" stroke="#089981"/><line x1="370.15" y1="148.6" x2="370.15" y2="161.7" stroke="#F23645"/><line x1="372.68" y1="153.3" x2="372.68" y2="168.3" stroke="#089981"/><line x1="375.21" y1="161.0" x2="375.21" y2="181.6" stroke="#F23645"/><line x1="377.74" y1="175.0" x2="377.74" y2="190.0" stroke="#F23645"/><line x1="400.52" y1="187.2" x2="400.52" y2="199.4" stroke="#089981"/><line x1="408.12" y1="187.2" x2="408.12" y2="200.4" stroke="#F23645"/><line x1="410.65" y1="195.7" x2="410.65" y2="204.2" stroke="#F23645"/><line x1="448.62" y1="245.0" x2="448.62" y2="253.1" stroke="#F23645"/><line x1="453.69" y1="239.9" x2="453.69" y2="243.2" stroke="#089981"/><line x1="466.34" y1="238.5" x2="466.34" y2="245.4" stroke="#F23645"/><line x1="468.88" y1="246.0" x2="468.88" y2="252.6" stroke="#089981"/><line x1="476.47" y1="252.6" x2="476.47" y2="259.1" stroke="#089981"/><line x1="486.60" y1="245.7" x2="486.60" y2="251.0" stroke="#089981"/><line x1="544.82" y1="245.0" x2="544.82" y2="252.6" stroke="#089981"/><line x1="572.67" y1="264.5" x2="572.67" y2="274.5" stroke="#F23645"/><line x1="575.20" y1="272.6" x2="575.20" y2="297.7" stroke="#F23645"/><line x1="580.26" y1="275.2" x2="580.26" y2="292.4" stroke="#089981"/><line x1="587.86" y1="257.0" x2="587.86" y2="278.6" stroke="#089981"/><line x1="590.39" y1="258.3" x2="590.39" y2="268.0" stroke="#089981"/><line x1="597.98" y1="260.6" x2="597.98" y2="271.1" stroke="#089981"/><line x1="603.04" y1="240.5" x2="603.04" y2="258.3" stroke="#089981"/><line x1="608.11" y1="254.4" x2="608.11" y2="262.2" stroke="#089981"/><line x1="610.64" y1="243.6" x2="610.64" y2="253.6" stroke="#089981"/><line x1="613.17" y1="225.0" x2="613.17" y2="245.1" stroke="#089981"/><line x1="615.70" y1="219.7" x2="615.70" y2="229.5" stroke="#089981"/><line x1="618.23" y1="224.8" x2="618.23" y2="237.0" stroke="#F23645"/><line x1="628.36" y1="219.7" x2="628.36" y2="241.2" stroke="#089981"/><line x1="646.08" y1="196.6" x2="646.08" y2="222.0" stroke="#089981"/><line x1="653.67" y1="202.3" x2="653.67" y2="210.3" stroke="#F23645"/><line x1="661.27" y1="186.3" x2="661.27" y2="199.4" stroke="#089981"/><line x1="663.80" y1="182.2" x2="663.80" y2="193.8" stroke="#089981"/><line x1="673.93" y1="190.0" x2="673.93" y2="212.6" stroke="#F23645"/><line x1="678.99" y1="176.0" x2="678.99" y2="188.2" stroke="#089981"/><line x1="681.52" y1="174.0" x2="681.52" y2="188.2" stroke="#089981"/><line x1="684.05" y1="178.8" x2="684.05" y2="189.1" stroke="#F23645"/><line x1="696.71" y1="213.5" x2="696.71" y2="219.2" stroke="#089981"/><line x1="734.68" y1="186.9" x2="734.68" y2="220.5" stroke="#089981"/><line x1="737.21" y1="188.0" x2="737.21" y2="204.4" stroke="#089981"/><line x1="739.75" y1="195.8" x2="739.75" y2="211.2" stroke="#F23645"/><line x1="744.81" y1="181.5" x2="744.81" y2="195.6" stroke="#089981"/><line x1="747.34" y1="189.9" x2="747.34" y2="198.6" stroke="#F23645"/><line x1="752.40" y1="194.5" x2="752.40" y2="198.6" stroke="#089981"/><line x1="757.47" y1="189.3" x2="757.47" y2="199.2" stroke="#F23645"/><line x1="762.53" y1="200.0" x2="762.53" y2="205.0" stroke="#089981"/></g>
<g><rect x="7.19" y="284.8" width="1.9" height="9.3" fill="#F23645"/><rect x="9.72" y="287.9" width="1.9" height="5.0" fill="#089981"/><rect x="12.26" y="288.5" width="1.9" height="12.4" fill="#F23645"/><rect x="14.79" y="298.4" width="1.9" height="1.9" fill="#089981"/><rect x="17.32" y="296.2" width="1.9" height="8.4" fill="#F23645"/><rect x="19.85" y="302.1" width="1.9" height="2.5" fill="#089981"/><rect x="22.38" y="297.8" width="1.9" height="2.2" fill="#089981"/><rect x="24.91" y="296.6" width="1.9" height="1.8" fill="#089981"/><rect x="27.44" y="298.7" width="1.9" height="1.6" fill="#089981"/><rect x="29.98" y="291.6" width="1.9" height="7.4" fill="#089981"/><rect x="32.51" y="291.0" width="1.9" height="2.5" fill="#089981"/><rect x="35.04" y="292.5" width="1.9" height="0.8" fill="#089981"/><rect x="37.57" y="291.0" width="1.9" height="3.1" fill="#089981"/><rect x="40.10" y="292.2" width="1.9" height="2.5" fill="#F23645"/><rect x="42.63" y="294.7" width="1.9" height="5.0" fill="#F23645"/><rect x="45.16" y="296.9" width="1.9" height="3.0" fill="#F23645"/><rect x="47.70" y="299.0" width="1.9" height="50.8" fill="#F23645"/><rect x="50.23" y="328.0" width="1.9" height="18.0" fill="#089981"/><rect x="52.76" y="335.0" width="1.9" height="8.0" fill="#F23645"/><rect x="55.29" y="337.7" width="1.9" height="4.3" fill="#089981"/><rect x="57.82" y="332.0" width="1.9" height="8.5" fill="#089981"/><rect x="60.35" y="326.4" width="1.9" height="7.6" fill="#F23645"/><rect x="62.89" y="332.0" width="1.9" height="1.5" fill="#089981"/><rect x="65.42" y="306.6" width="1.9" height="25.4" fill="#089981"/><rect x="67.95" y="305.8" width="1.9" height="17.4" fill="#F23645"/><rect x="70.48" y="313.3" width="1.9" height="8.7" fill="#F23645"/><rect x="73.01" y="307.1" width="1.9" height="7.4" fill="#089981"/><rect x="75.54" y="300.9" width="1.9" height="6.8" fill="#089981"/><rect x="78.07" y="291.6" width="1.9" height="10.5" fill="#089981"/><rect x="80.61" y="283.9" width="1.9" height="8.7" fill="#089981"/><rect x="83.14" y="270.5" width="1.9" height="13.4" fill="#089981"/><rect x="85.67" y="272.5" width="1.9" height="2.7" fill="#F23645"/><rect x="88.20" y="266.5" width="1.9" height="7.4" fill="#089981"/><rect x="90.73" y="266.5" width="1.9" height="2.7" fill="#F23645"/><rect x="93.26" y="269.2" width="1.9" height="3.3" fill="#F23645"/><rect x="95.79" y="263.8" width="1.9" height="10.7" fill="#089981"/><rect x="98.33" y="255.8" width="1.9" height="4.7" fill="#089981"/><rect x="100.86" y="255.8" width="1.9" height="5.3" fill="#F23645"/><rect x="103.39" y="257.1" width="1.9" height="6.1" fill="#F23645"/><rect x="105.92" y="258.5" width="1.9" height="4.0" fill="#F23645"/><rect x="108.45" y="263.2" width="1.9" height="8.0" fill="#F23645"/><rect x="110.98" y="266.5" width="1.9" height="4.7" fill="#089981"/><rect x="113.52" y="266.5" width="1.9" height="12.7" fill="#F23645"/><rect x="116.05" y="274.5" width="1.9" height="8.1" fill="#F23645"/><rect x="118.58" y="278.6" width="1.9" height="2.6" fill="#089981"/><rect x="121.11" y="277.2" width="1.9" height="2.7" fill="#089981"/><rect x="123.64" y="279.9" width="1.9" height="4.0" fill="#F23645"/><rect x="126.17" y="266.5" width="1.9" height="17.4" fill="#089981"/><rect x="128.70" y="267.2" width="1.9" height="5.3" fill="#F23645"/><rect x="131.24" y="266.5" width="1.9" height="5.4" fill="#089981"/><rect x="133.77" y="272.5" width="1.9" height="15.4" fill="#F23645"/><rect x="136.30" y="283.9" width="1.9" height="4.7" fill="#F23645"/><rect x="138.83" y="279.9" width="1.9" height="8.7" fill="#089981"/><rect x="141.36" y="283.3" width="1.9" height="9.3" fill="#F23645"/><rect x="143.89" y="295.5" width="1.9" height="8.8" fill="#F23645"/><rect x="146.43" y="295.5" width="1.9" height="8.4" fill="#089981"/><rect x="148.96" y="295.5" width="1.9" height="10.3" fill="#F23645"/><rect x="151.49" y="293.6" width="1.9" height="8.4" fill="#089981"/><rect x="154.02" y="272.9" width="1.9" height="18.8" fill="#089981"/><rect x="156.55" y="281.4" width="1.9" height="1.8" fill="#089981"/><rect x="159.08" y="278.5" width="1.9" height="6.6" fill="#F23645"/><rect x="161.61" y="272.9" width="1.9" height="13.1" fill="#089981"/><rect x="164.15" y="272.3" width="1.9" height="2.5" fill="#F23645"/><rect x="166.68" y="272.0" width="1.9" height="6.5" fill="#F23645"/><rect x="169.21" y="276.6" width="1.9" height="11.3" fill="#F23645"/><rect x="171.74" y="286.0" width="1.9" height="5.7" fill="#F23645"/><rect x="174.27" y="284.1" width="1.9" height="7.6" fill="#089981"/><rect x="176.80" y="283.2" width="1.9" height="2.8" fill="#F23645"/><rect x="179.33" y="283.2" width="1.9" height="4.1" fill="#089981"/><rect x="181.87" y="282.2" width="1.9" height="3.8" fill="#089981"/><rect x="184.40" y="282.8" width="1.9" height="8.9" fill="#F23645"/><rect x="186.93" y="292.6" width="1.9" height="10.3" fill="#F23645"/><rect x="189.46" y="267.2" width="1.9" height="35.7" fill="#089981"/><rect x="191.99" y="228.0" width="1.9" height="41.0" fill="#089981"/><rect x="194.52" y="216.6" width="1.9" height="9.4" fill="#089981"/><rect x="197.06" y="218.5" width="1.9" height="7.5" fill="#F23645"/><rect x="199.59" y="226.0" width="1.9" height="4.7" fill="#F23645"/><rect x="202.12" y="228.5" width="1.9" height="4.1" fill="#089981"/><rect x="204.65" y="220.4" width="1.9" height="3.6" fill="#089981"/><rect x="207.18" y="218.5" width="1.9" height="8.5" fill="#089981"/><rect x="209.71" y="220.4" width="1.9" height="1.6" fill="#F23645"/><rect x="212.24" y="221.7" width="1.9" height="9.0" fill="#F23645"/><rect x="214.78" y="228.8" width="1.9" height="3.8" fill="#089981"/><rect x="217.31" y="226.0" width="1.9" height="7.5" fill="#F23645"/><rect x="219.84" y="234.0" width="1.9" height="5.0" fill="#F23645"/><rect x="222.37" y="239.0" width="1.9" height="4.0" fill="#F23645"/><rect x="224.90" y="241.0" width="1.9" height="5.7" fill="#F23645"/><rect x="227.43" y="244.4" width="1.9" height="7.7" fill="#F23645"/><rect x="229.96" y="245.7" width="1.9" height="5.7" fill="#089981"/><rect x="232.50" y="244.4" width="1.9" height="3.6" fill="#089981"/><rect x="235.03" y="243.6" width="1.9" height="26.4" fill="#F23645"/><rect x="237.56" y="268.4" width="1.9" height="9.3" fill="#F23645"/><rect x="240.09" y="273.0" width="1.9" height="5.4" fill="#089981"/><rect x="242.62" y="267.6" width="1.9" height="5.4" fill="#089981"/><rect x="245.15" y="262.2" width="1.9" height="6.2" fill="#089981"/><rect x="247.69" y="263.0" width="1.9" height="11.6" fill="#F23645"/><rect x="250.22" y="272.3" width="1.9" height="7.7" fill="#F23645"/><rect x="252.75" y="254.5" width="1.9" height="25.5" fill="#089981"/><rect x="255.28" y="246.0" width="1.9" height="10.0" fill="#089981"/><rect x="257.81" y="242.9" width="1.9" height="4.6" fill="#089981"/><rect x="260.34" y="235.9" width="1.9" height="6.2" fill="#089981"/><rect x="262.87" y="235.9" width="1.9" height="3.9" fill="#F23645"/><rect x="265.41" y="237.4" width="1.9" height="7.8" fill="#F23645"/><rect x="267.94" y="246.0" width="1.9" height="2.3" fill="#F23645"/><rect x="270.47" y="242.1" width="1.9" height="6.6" fill="#089981"/><rect x="273.00" y="241.0" width="1.9" height="2.6" fill="#F23645"/><rect x="275.53" y="243.6" width="1.9" height="3.1" fill="#F23645"/><rect x="278.06" y="241.3" width="1.9" height="6.2" fill="#089981"/><rect x="280.59" y="240.5" width="1.9" height="3.1" fill="#F23645"/><rect x="283.13" y="242.9" width="1.9" height="13.1" fill="#F23645"/><rect x="285.66" y="252.1" width="1.9" height="3.1" fill="#089981"/><rect x="288.19" y="245.2" width="1.9" height="9.3" fill="#089981"/><rect x="290.72" y="239.0" width="1.9" height="7.0" fill="#089981"/><rect x="293.25" y="218.1" width="1.9" height="20.9" fill="#089981"/><rect x="295.78" y="184.4" width="1.9" height="33.7" fill="#089981"/><rect x="298.31" y="176.0" width="1.9" height="10.4" fill="#089981"/><rect x="300.85" y="176.0" width="1.9" height="6.6" fill="#F23645"/><rect x="303.38" y="179.8" width="1.9" height="4.7" fill="#F23645"/><rect x="305.91" y="181.7" width="1.9" height="4.7" fill="#089981"/><rect x="308.44" y="177.0" width="1.9" height="3.7" fill="#089981"/><rect x="310.97" y="175.0" width="1.9" height="3.8" fill="#089981"/><rect x="313.50" y="136.5" width="1.9" height="38.5" fill="#089981"/><rect x="316.04" y="135.4" width="1.9" height="3.8" fill="#F23645"/><rect x="318.57" y="141.0" width="1.9" height="4.7" fill="#F23645"/><rect x="321.10" y="132.6" width="1.9" height="8.4" fill="#089981"/><rect x="323.63" y="128.8" width="1.9" height="3.8" fill="#F23645"/><rect x="326.16" y="131.6" width="1.9" height="12.2" fill="#F23645"/><rect x="328.69" y="140.0" width="1.9" height="6.0" fill="#089981"/><rect x="331.22" y="136.3" width="1.9" height="14.7" fill="#F23645"/><rect x="333.76" y="149.5" width="1.9" height="1.9" fill="#089981"/><rect x="336.29" y="147.6" width="1.9" height="4.7" fill="#089981"/><rect x="338.82" y="151.0" width="1.9" height="6.0" fill="#F23645"/><rect x="341.35" y="152.3" width="1.9" height="5.1" fill="#F23645"/><rect x="343.88" y="153.3" width="1.9" height="3.7" fill="#F23645"/><rect x="346.41" y="148.6" width="1.9" height="7.4" fill="#089981"/><rect x="348.94" y="148.6" width="1.9" height="10.3" fill="#F23645"/><rect x="351.48" y="155.0" width="1.9" height="4.8" fill="#089981"/><rect x="354.01" y="155.2" width="1.9" height="11.4" fill="#F23645"/><rect x="356.54" y="160.6" width="1.9" height="6.0" fill="#089981"/><rect x="359.07" y="154.2" width="1.9" height="5.6" fill="#089981"/><rect x="361.60" y="136.3" width="1.9" height="17.9" fill="#089981"/><rect x="364.13" y="137.3" width="1.9" height="12.2" fill="#F23645"/><rect x="366.67" y="145.7" width="1.9" height="2.9" fill="#089981"/><rect x="369.20" y="148.6" width="1.9" height="9.4" fill="#F23645"/><rect x="371.73" y="153.3" width="1.9" height="1.7" fill="#089981"/><rect x="374.26" y="161.0" width="1.9" height="16.0" fill="#F23645"/><rect x="376.79" y="175.0" width="1.9" height="3.8" fill="#F23645"/><rect x="379.32" y="176.0" width="1.9" height="18.7" fill="#F23645"/><rect x="381.85" y="186.3" width="1.9" height="6.5" fill="#089981"/><rect x="384.39" y="183.5" width="1.9" height="4.7" fill="#F23645"/><rect x="386.92" y="180.6" width="1.9" height="7.6" fill="#089981"/><rect x="389.45" y="177.8" width="1.9" height="6.6" fill="#089981"/><rect x="391.98" y="181.6" width="1.9" height="1.9" fill="#089981"/><rect x="394.51" y="182.9" width="1.9" height="8.1" fill="#F23645"/><rect x="397.04" y="187.8" width="1.9" height="1.9" fill="#089981"/><rect x="399.57" y="187.2" width="1.9" height="1.3" fill="#089981"/><rect x="402.11" y="181.2" width="1.9" height="2.3" fill="#089981"/><rect x="404.64" y="182.9" width="1.9" height="3.8" fill="#F23645"/><rect x="407.17" y="187.2" width="1.9" height="9.4" fill="#F23645"/><rect x="409.70" y="195.7" width="1.9" height="4.7" fill="#F23645"/><rect x="412.23" y="194.8" width="1.9" height="5.6" fill="#089981"/><rect x="414.76" y="184.4" width="1.9" height="11.3" fill="#089981"/><rect x="417.30" y="185.3" width="1.9" height="6.7" fill="#F23645"/><rect x="419.83" y="192.0" width="1.9" height="8.4" fill="#F23645"/><rect x="422.36" y="191.0" width="1.9" height="5.6" fill="#089981"/><rect x="424.89" y="195.7" width="1.9" height="7.5" fill="#F23645"/><rect x="427.42" y="203.6" width="1.9" height="6.2" fill="#F23645"/><rect x="429.95" y="203.6" width="1.9" height="19.4" fill="#F23645"/><rect x="432.48" y="224.0" width="1.9" height="20.6" fill="#F23645"/><rect x="435.02" y="229.6" width="1.9" height="11.2" fill="#089981"/><rect x="437.55" y="236.1" width="1.9" height="6.5" fill="#F23645"/><rect x="440.08" y="237.2" width="1.9" height="11.6" fill="#F23645"/><rect x="442.61" y="241.3" width="1.9" height="3.7" fill="#089981"/><rect x="445.14" y="243.2" width="1.9" height="3.8" fill="#F23645"/><rect x="447.67" y="245.0" width="1.9" height="4.7" fill="#F23645"/><rect x="450.20" y="243.2" width="1.9" height="3.8" fill="#089981"/><rect x="452.74" y="240.9" width="1.9" height="2.3" fill="#089981"/><rect x="455.27" y="243.2" width="1.9" height="2.2" fill="#F23645"/><rect x="457.80" y="244.1" width="1.9" height="0.9" fill="#F23645"/><rect x="460.33" y="242.2" width="1.9" height="1.3" fill="#089981"/><rect x="462.86" y="244.1" width="1.9" height="0.9" fill="#089981"/><rect x="465.39" y="240.3" width="1.9" height="5.1" fill="#F23645"/><rect x="467.93" y="246.0" width="1.9" height="1.8" fill="#089981"/><rect x="470.46" y="247.8" width="1.9" height="1.9" fill="#F23645"/><rect x="472.99" y="248.8" width="1.9" height="7.9" fill="#F23645"/><rect x="475.52" y="252.6" width="1.9" height="2.8" fill="#089981"/><rect x="478.05" y="252.2" width="1.9" height="2.2" fill="#089981"/><rect x="480.58" y="248.4" width="1.9" height="6.4" fill="#089981"/><rect x="483.11" y="248.8" width="1.9" height="2.8" fill="#F23645"/><rect x="485.65" y="246.9" width="1.9" height="4.1" fill="#089981"/><rect x="488.18" y="248.4" width="1.9" height="1.3" fill="#F23645"/><rect x="490.71" y="247.8" width="1.9" height="2.9" fill="#F23645"/><rect x="493.24" y="248.8" width="1.9" height="6.0" fill="#089981"/><rect x="495.77" y="249.7" width="1.9" height="2.9" fill="#F23645"/><rect x="498.30" y="251.6" width="1.9" height="1.9" fill="#F23645"/><rect x="500.83" y="251.0" width="1.9" height="2.1" fill="#F23645"/><rect x="503.37" y="254.4" width="1.9" height="4.7" fill="#F23645"/><rect x="505.90" y="258.2" width="1.9" height="12.2" fill="#F23645"/><rect x="508.43" y="261.0" width="1.9" height="4.3" fill="#089981"/><rect x="510.96" y="260.0" width="1.9" height="2.9" fill="#F23645"/><rect x="513.49" y="261.0" width="1.9" height="4.7" fill="#F23645"/><rect x="516.02" y="262.9" width="1.9" height="1.8" fill="#089981"/><rect x="518.56" y="262.0" width="1.9" height="3.7" fill="#F23645"/><rect x="521.09" y="262.9" width="1.9" height="2.8" fill="#089981"/><rect x="523.62" y="264.2" width="1.9" height="7.1" fill="#F23645"/><rect x="526.15" y="268.5" width="1.9" height="2.8" fill="#F23645"/><rect x="528.68" y="269.5" width="1.9" height="7.5" fill="#F23645"/><rect x="531.21" y="265.7" width="1.9" height="5.6" fill="#089981"/><rect x="533.74" y="265.7" width="1.9" height="1.5" fill="#089981"/><rect x="536.28" y="261.0" width="1.9" height="1.0" fill="#F23645"/><rect x="538.81" y="259.1" width="1.9" height="3.8" fill="#089981"/><rect x="541.34" y="253.5" width="1.9" height="3.8" fill="#089981"/><rect x="543.87" y="249.7" width="1.9" height="2.9" fill="#089981"/><rect x="546.40" y="252.6" width="1.9" height="6.5" fill="#F23645"/><rect x="548.93" y="258.2" width="1.9" height="10.3" fill="#F23645"/><rect x="551.46" y="262.9" width="1.9" height="3.7" fill="#F23645"/><rect x="554.00" y="262.3" width="1.9" height="2.4" fill="#F23645"/><rect x="556.53" y="262.9" width="1.9" height="3.7" fill="#F23645"/><rect x="559.06" y="264.7" width="1.9" height="8.1" fill="#F23645"/><rect x="561.59" y="266.6" width="1.9" height="4.7" fill="#089981"/><rect x="564.12" y="269.0" width="1.9" height="4.2" fill="#F23645"/><rect x="566.65" y="260.0" width="1.9" height="13.2" fill="#089981"/><rect x="569.19" y="261.0" width="1.9" height="4.7" fill="#F23645"/><rect x="571.72" y="264.5" width="1.9" height="6.2" fill="#F23645"/><rect x="574.25" y="272.6" width="1.9" height="12.8" fill="#F23645"/><rect x="576.78" y="280.0" width="1.9" height="10.5" fill="#F23645"/><rect x="579.31" y="282.0" width="1.9" height="9.3" fill="#089981"/><rect x="581.84" y="277.2" width="1.9" height="9.1" fill="#F23645"/><rect x="584.37" y="277.7" width="1.9" height="10.3" fill="#089981"/><rect x="586.91" y="268.0" width="1.9" height="10.6" fill="#089981"/><rect x="589.44" y="262.0" width="1.9" height="6.0" fill="#089981"/><rect x="591.97" y="250.6" width="1.9" height="16.1" fill="#089981"/><rect x="594.50" y="251.8" width="1.9" height="13.4" fill="#F23645"/><rect x="597.03" y="260.6" width="1.9" height="4.6" fill="#089981"/><rect x="599.56" y="252.1" width="1.9" height="9.3" fill="#089981"/><rect x="602.09" y="249.0" width="1.9" height="4.6" fill="#089981"/><rect x="604.63" y="249.0" width="1.9" height="7.7" fill="#F23645"/><rect x="607.16" y="254.4" width="1.9" height="3.1" fill="#089981"/><rect x="609.69" y="246.7" width="1.9" height="6.9" fill="#089981"/><rect x="612.22" y="229.0" width="1.9" height="16.1" fill="#089981"/><rect x="614.75" y="224.8" width="1.9" height="4.7" fill="#089981"/><rect x="617.28" y="224.8" width="1.9" height="9.4" fill="#F23645"/><rect x="619.82" y="227.6" width="1.9" height="4.7" fill="#F23645"/><rect x="622.35" y="228.5" width="1.9" height="7.6" fill="#F23645"/><rect x="624.88" y="235.2" width="1.9" height="7.4" fill="#F23645"/><rect x="627.41" y="228.5" width="1.9" height="12.7" fill="#089981"/><rect x="629.94" y="228.5" width="1.9" height="1.3" fill="#089981"/><rect x="632.47" y="227.2" width="1.9" height="7.0" fill="#F23645"/><rect x="635.00" y="227.2" width="1.9" height="8.9" fill="#F23645"/><rect x="637.54" y="236.1" width="1.9" height="4.3" fill="#F23645"/><rect x="640.07" y="225.4" width="1.9" height="15.4" fill="#089981"/><rect x="642.60" y="222.0" width="1.9" height="6.5" fill="#089981"/><rect x="645.13" y="201.0" width="1.9" height="21.0" fill="#089981"/><rect x="647.66" y="202.3" width="1.9" height="16.9" fill="#F23645"/><rect x="650.19" y="207.9" width="1.9" height="9.4" fill="#F23645"/><rect x="652.72" y="207.0" width="1.9" height="3.3" fill="#F23645"/><rect x="655.26" y="208.5" width="1.9" height="2.2" fill="#F23645"/><rect x="657.79" y="199.1" width="1.9" height="11.6" fill="#089981"/><rect x="660.32" y="193.8" width="1.9" height="5.6" fill="#089981"/><rect x="662.85" y="187.2" width="1.9" height="6.6" fill="#089981"/><rect x="665.38" y="189.7" width="1.9" height="3.1" fill="#F23645"/><rect x="667.91" y="192.8" width="1.9" height="2.9" fill="#F23645"/><rect x="670.45" y="195.7" width="1.9" height="2.8" fill="#F23645"/><rect x="672.98" y="196.6" width="1.9" height="16.0" fill="#F23645"/><rect x="675.51" y="177.8" width="1.9" height="32.9" fill="#089981"/><rect x="678.04" y="177.8" width="1.9" height="10.4" fill="#089981"/><rect x="680.57" y="179.7" width="1.9" height="1.9" fill="#089981"/><rect x="683.10" y="181.6" width="1.9" height="7.5" fill="#F23645"/><rect x="685.63" y="189.1" width="1.9" height="17.9" fill="#F23645"/><rect x="688.17" y="205.1" width="1.9" height="2.8" fill="#F23645"/><rect x="690.70" y="202.3" width="1.9" height="3.7" fill="#089981"/><rect x="693.23" y="200.4" width="1.9" height="15.9" fill="#F23645"/><rect x="695.76" y="213.5" width="1.9" height="2.8" fill="#089981"/><rect x="698.29" y="209.8" width="1.9" height="2.8" fill="#089981"/><rect x="700.82" y="206.0" width="1.9" height="3.8" fill="#089981"/><rect x="703.35" y="206.6" width="1.9" height="1.4" fill="#F23645"/><rect x="705.89" y="206.6" width="1.9" height="8.8" fill="#F23645"/><rect x="708.42" y="211.6" width="1.9" height="6.6" fill="#F23645"/><rect x="710.95" y="203.6" width="1.9" height="13.7" fill="#089981"/><rect x="713.48" y="204.1" width="1.9" height="15.6" fill="#F23645"/><rect x="716.01" y="209.2" width="1.9" height="9.0" fill="#089981"/><rect x="718.54" y="208.5" width="1.9" height="7.8" fill="#F23645"/><rect x="721.08" y="214.5" width="1.9" height="2.8" fill="#F23645"/><rect x="723.61" y="214.5" width="1.9" height="6.5" fill="#089981"/><rect x="726.14" y="216.3" width="1.9" height="2.9" fill="#089981"/><rect x="728.67" y="216.3" width="1.9" height="9.4" fill="#F23645"/><rect x="731.20" y="223.8" width="1.9" height="1.9" fill="#089981"/><rect x="733.73" y="204.4" width="1.9" height="16.1" fill="#089981"/><rect x="736.26" y="196.5" width="1.9" height="7.9" fill="#089981"/><rect x="738.80" y="195.8" width="1.9" height="8.2" fill="#F23645"/><rect x="741.33" y="192.7" width="1.9" height="11.0" fill="#089981"/><rect x="743.86" y="192.1" width="1.9" height="3.5" fill="#089981"/><rect x="746.39" y="189.9" width="1.9" height="6.3" fill="#F23645"/><rect x="748.92" y="193.2" width="1.9" height="4.6" fill="#F23645"/><rect x="751.45" y="194.5" width="1.9" height="2.3" fill="#089981"/><rect x="753.98" y="192.7" width="1.9" height="2.2" fill="#089981"/><rect x="756.52" y="192.7" width="1.9" height="6.5" fill="#F23645"/><rect x="759.05" y="197.5" width="1.9" height="6.2" fill="#F23645"/><rect x="761.58" y="203.0" width="1.9" height="2.0" fill="#089981"/></g>
<text x="798" y="4.3" font-family="Liberation Sans, Arial, sans-serif" font-size="9.6" font-weight="normal" fill="#131722" stroke="#131722" stroke-width="0.22" text-anchor="start" textLength="39.2" lengthAdjust="spacingAndGlyphs">80,000.00</text>
<text x="798" y="45.65" font-family="Liberation Sans, Arial, sans-serif" font-size="9.6" font-weight="normal" fill="#131722" stroke="#131722" stroke-width="0.22" text-anchor="start" textLength="39.2" lengthAdjust="spacingAndGlyphs">78,000.00</text>
<text x="798" y="87.0" font-family="Liberation Sans, Arial, sans-serif" font-size="9.6" font-weight="normal" fill="#131722" stroke="#131722" stroke-width="0.22" text-anchor="start" textLength="39.2" lengthAdjust="spacingAndGlyphs">76,000.00</text>
<text x="798" y="128.35" font-family="Liberation Sans, Arial, sans-serif" font-size="9.6" font-weight="normal" fill="#131722" stroke="#131722" stroke-width="0.22" text-anchor="start" textLength="39.2" lengthAdjust="spacingAndGlyphs">74,000.00</text>
<text x="798" y="335.1" font-family="Liberation Sans, Arial, sans-serif" font-size="9.6" font-weight="normal" fill="#131722" stroke="#131722" stroke-width="0.22" text-anchor="start" textLength="39.2" lengthAdjust="spacingAndGlyphs">64,000.00</text>
<text x="798" y="376.45" font-family="Liberation Sans, Arial, sans-serif" font-size="9.6" font-weight="normal" fill="#131722" stroke="#131722" stroke-width="0.22" text-anchor="start" textLength="39.2" lengthAdjust="spacingAndGlyphs">62,000.00</text>
<text x="798" y="417.8" font-family="Liberation Sans, Arial, sans-serif" font-size="9.6" font-weight="normal" fill="#131722" stroke="#131722" stroke-width="0.22" text-anchor="start" textLength="39.2" lengthAdjust="spacingAndGlyphs">60,000.00</text>
<rect x="792.2" y="130.10" width="48.7" height="12.68" fill="#4CAF50"/>
<text x="798" y="138.6" font-family="Liberation Sans, Arial, sans-serif" font-size="9.6" font-weight="normal" fill="#fff" stroke="#fff" stroke-width="0.22" text-anchor="start" textLength="39.2" lengthAdjust="spacingAndGlyphs">71,763.87</text>
<rect x="792.2" y="142.68" width="48.7" height="12.68" fill="#00E676"/>
<text x="798" y="151.18" font-family="Liberation Sans, Arial, sans-serif" font-size="9.6" font-weight="normal" fill="#000" stroke="#000" stroke-width="0.22" text-anchor="start" textLength="39.2" lengthAdjust="spacingAndGlyphs">71,294.43</text>
<rect x="792.2" y="155.26" width="48.7" height="12.68" fill="#F23645"/>
<text x="798" y="163.76" font-family="Liberation Sans, Arial, sans-serif" font-size="9.6" font-weight="normal" fill="#fff" stroke="#fff" stroke-width="0.22" text-anchor="start" textLength="39.2" lengthAdjust="spacingAndGlyphs">71,126.29</text>
<rect x="792.2" y="167.84" width="48.7" height="12.68" fill="#4CAF50"/>
<text x="798" y="176.34" font-family="Liberation Sans, Arial, sans-serif" font-size="9.6" font-weight="normal" fill="#fff" stroke="#fff" stroke-width="0.22" text-anchor="start" textLength="39.2" lengthAdjust="spacingAndGlyphs">70,900.32</text>
<rect x="792.2" y="180.42" width="48.7" height="12.68" fill="#00E676"/>
<text x="798" y="188.92" font-family="Liberation Sans, Arial, sans-serif" font-size="9.6" font-weight="normal" fill="#000" stroke="#000" stroke-width="0.22" text-anchor="start" textLength="39.2" lengthAdjust="spacingAndGlyphs">70,760.74</text>
<rect x="792.2" y="193.00" width="48.7" height="12.68" fill="#2962FF"/>
<text x="798" y="201.5" font-family="Liberation Sans, Arial, sans-serif" font-size="9.6" font-weight="normal" fill="#fff" stroke="#fff" stroke-width="0.22" text-anchor="start" textLength="39.2" lengthAdjust="spacingAndGlyphs">70,134.45</text>
<rect x="792.2" y="205.58" width="48.7" height="12.68" fill="#F23645"/>
<text x="798" y="214.08" font-family="Liberation Sans, Arial, sans-serif" font-size="9.6" font-weight="normal" fill="#fff" stroke="#fff" stroke-width="0.22" text-anchor="start" textLength="39.2" lengthAdjust="spacingAndGlyphs">69,827.55</text>
<rect x="792.2" y="218.16" width="48.7" height="12.68" fill="#FF5252"/>
<text x="798" y="226.66" font-family="Liberation Sans, Arial, sans-serif" font-size="9.6" font-weight="normal" fill="#fff" stroke="#fff" stroke-width="0.22" text-anchor="start" textLength="39.2" lengthAdjust="spacingAndGlyphs">69,237.62</text>
<rect x="792.2" y="230.74" width="48.7" height="12.68" fill="#089981"/>
<text x="798" y="239.24" font-family="Liberation Sans, Arial, sans-serif" font-size="9.6" font-weight="normal" fill="#fff" stroke="#fff" stroke-width="0.22" text-anchor="start" textLength="39.2" lengthAdjust="spacingAndGlyphs">69,142.60</text>
<rect x="792.2" y="243.32" width="48.7" height="12.68" fill="#FF5252"/>
<text x="798" y="251.82" font-family="Liberation Sans, Arial, sans-serif" font-size="9.6" font-weight="normal" fill="#fff" stroke="#fff" stroke-width="0.22" text-anchor="start" textLength="39.2" lengthAdjust="spacingAndGlyphs">69,000.00</text>
<rect x="792.2" y="255.90" width="48.7" height="12.68" fill="#2196F3"/>
<text x="798" y="264.4" font-family="Liberation Sans, Arial, sans-serif" font-size="9.6" font-weight="normal" fill="#fff" stroke="#fff" stroke-width="0.22" text-anchor="start" textLength="39.2" lengthAdjust="spacingAndGlyphs">68,757.64</text>
<rect x="792.2" y="268.48" width="48.7" height="12.68" fill="#2196F3"/>
<text x="798" y="276.98" font-family="Liberation Sans, Arial, sans-serif" font-size="9.6" font-weight="normal" fill="#fff" stroke="#fff" stroke-width="0.22" text-anchor="start" textLength="39.2" lengthAdjust="spacingAndGlyphs">67,995.58</text>
<rect x="792.2" y="281.06" width="48.7" height="12.68" fill="#FF9800"/>
<text x="798" y="289.56" font-family="Liberation Sans, Arial, sans-serif" font-size="9.6" font-weight="normal" fill="#000" stroke="#000" stroke-width="0.22" text-anchor="start" textLength="39.2" lengthAdjust="spacingAndGlyphs">66,405.75</text>
<rect x="792.2" y="293.64" width="48.7" height="12.68" fill="#E040FB"/>
<text x="798" y="302.14" font-family="Liberation Sans, Arial, sans-serif" font-size="9.6" font-weight="normal" fill="#fff" stroke="#fff" stroke-width="0.22" text-anchor="start" textLength="39.2" lengthAdjust="spacingAndGlyphs">65,975.87</text>
<rect x="792.2" y="306.22" width="48.7" height="12.68" fill="#E040FB"/>
<text x="798" y="314.72" font-family="Liberation Sans, Arial, sans-serif" font-size="9.6" font-weight="normal" fill="#fff" stroke="#fff" stroke-width="0.22" text-anchor="start" textLength="39.2" lengthAdjust="spacingAndGlyphs">65,677.13</text>
<rect x="792.2" y="318.80" width="48.7" height="12.00" fill="#FF9800"/>
<text x="798" y="327.3" font-family="Liberation Sans, Arial, sans-serif" font-size="9.6" font-weight="normal" fill="#000" stroke="#000" stroke-width="0.22" text-anchor="start" textLength="39.2" lengthAdjust="spacingAndGlyphs">65,621.02</text>
<rect x="754.7" y="205.6" width="37.4" height="12.1" rx="1.5" fill="#F23645"/>
<text x="757.9" y="215.0" font-family="Liberation Sans, Arial, sans-serif" font-size="9.9" font-weight="normal" fill="#fff" stroke="#fff" stroke-width="0.22" text-anchor="start" textLength="30.4" lengthAdjust="spacingAndGlyphs">BTCUSD</text>
<text x="20.7" y="468.7" font-family="Liberation Sans, Arial, sans-serif" font-size="9.4" fill="#131722" stroke="#131722" stroke-width="0.22" text-anchor="middle" textLength="9.1" lengthAdjust="spacingAndGlyphs">28</text>
<text x="81.5" y="468.7" font-family="Liberation Sans, Arial, sans-serif" font-size="9.4" font-weight="bold" fill="#131722" text-anchor="middle" textLength="14.8" lengthAdjust="spacingAndGlyphs">Mar</text>
<text x="142.3" y="468.7" font-family="Liberation Sans, Arial, sans-serif" font-size="9.4" fill="#131722" stroke="#131722" stroke-width="0.22" text-anchor="middle" textLength="4.6" lengthAdjust="spacingAndGlyphs">2</text>
<text x="203.1" y="468.7" font-family="Liberation Sans, Arial, sans-serif" font-size="9.4" fill="#131722" stroke="#131722" stroke-width="0.22" text-anchor="middle" textLength="4.6" lengthAdjust="spacingAndGlyphs">3</text>
<text x="263.9" y="468.7" font-family="Liberation Sans, Arial, sans-serif" font-size="9.4" fill="#131722" stroke="#131722" stroke-width="0.22" text-anchor="middle" textLength="4.6" lengthAdjust="spacingAndGlyphs">4</text>
<text x="324.7" y="468.7" font-family="Liberation Sans, Arial, sans-serif" font-size="9.4" fill="#131722" stroke="#131722" stroke-width="0.22" text-anchor="middle" textLength="4.6" lengthAdjust="spacingAndGlyphs">5</text>
<text x="385.5" y="468.7" font-family="Liberation Sans, Arial, sans-serif" font-size="9.4" fill="#131722" stroke="#131722" stroke-width="0.22" text-anchor="middle" textLength="4.6" lengthAdjust="spacingAndGlyphs">6</text>
<text x="446.3" y="468.7" font-family="Liberation Sans, Arial, sans-serif" font-size="9.4" fill="#131722" stroke="#131722" stroke-width="0.22" text-anchor="middle" textLength="4.6" lengthAdjust="spacingAndGlyphs">7</text>
<text x="507.1" y="468.7" font-family="Liberation Sans, Arial, sans-serif" font-size="9.4" fill="#131722" stroke="#131722" stroke-width="0.22" text-anchor="middle" textLength="4.6" lengthAdjust="spacingAndGlyphs">8</text>
<text x="567.9" y="468.7" font-family="Liberation Sans, Arial, sans-serif" font-size="9.4" fill="#131722" stroke="#131722" stroke-width="0.22" text-anchor="middle" textLength="4.6" lengthAdjust="spacingAndGlyphs">9</text>
<text x="628.7" y="468.7" font-family="Liberation Sans, Arial, sans-serif" font-size="9.4" fill="#131722" stroke="#131722" stroke-width="0.22" text-anchor="middle" textLength="8.9" lengthAdjust="spacingAndGlyphs">10</text>
<text x="689.5" y="468.7" font-family="Liberation Sans, Arial, sans-serif" font-size="9.4" fill="#131722" stroke="#131722" stroke-width="0.22" text-anchor="middle" textLength="7.8" lengthAdjust="spacingAndGlyphs">11</text>
<text x="750.3" y="468.7" font-family="Liberation Sans, Arial, sans-serif" font-size="9.4" fill="#131722" stroke="#131722" stroke-width="0.22" text-anchor="middle" textLength="8.3" lengthAdjust="spacingAndGlyphs">12</text>
<text x="13.8" y="5.8" font-family="Liberation Sans, Arial, sans-serif" font-size="9.6" font-weight="normal" fill="#131722" stroke="#131722" stroke-width="0.22" text-anchor="start" textLength="86" lengthAdjust="spacingAndGlyphs">BB (20, SMA, close, 2)</text>
<text x="105.9" y="5.8" font-family="Liberation Sans, Arial, sans-serif" font-size="9.6" font-weight="normal" fill="#2962FF" stroke="#2962FF" stroke-width="0.22" text-anchor="start" textLength="38.2" lengthAdjust="spacingAndGlyphs">70,134.45</text>
<text x="150.4" y="5.8" font-family="Liberation Sans, Arial, sans-serif" font-size="9.6" font-weight="normal" fill="#F23645" stroke="#F23645" stroke-width="0.22" text-anchor="start" textLength="38.2" lengthAdjust="spacingAndGlyphs">71,126.29</text>
<text x="194.2" y="5.8" font-family="Liberation Sans, Arial, sans-serif" font-size="9.6" font-weight="normal" fill="#089981" stroke="#089981" stroke-width="0.22" text-anchor="start" textLength="38.8" lengthAdjust="spacingAndGlyphs">69,142.60</text>
<g transform="translate(764.9,445.2)"><circle r="7.1" fill="#fff" stroke="#A32EC4" stroke-width="1.25"/><path d="M1.7,-3.6 L-3.2,0.9 L-0.5,0.9 L-1.9,3.5 L3.1,-0.9 L0.4,-0.9 Z" fill="#A32EC4" stroke="#A32EC4" stroke-width="0.3" stroke-linejoin="round"/><circle cx="5.0" cy="-4.8" r="3.0" fill="#fff"/><circle cx="5.0" cy="-4.8" r="1.9" fill="#F23645"/></g>
</svg></body></html>
